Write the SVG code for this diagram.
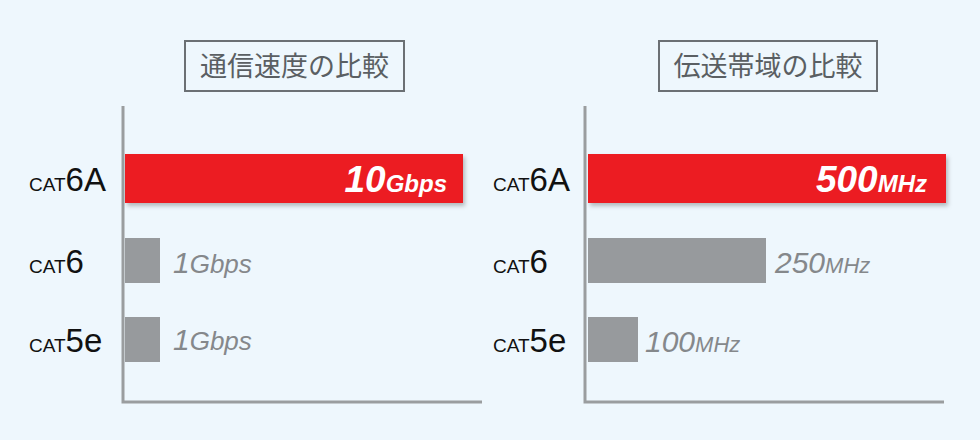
<svg xmlns="http://www.w3.org/2000/svg" width="980" height="440" viewBox="0 0 980 440">
<style>
.t{font-family:"Noto Sans CJK JP",sans-serif;font-size:27px;fill:#5a5f63}
.box{fill:none;stroke:#6b7074;stroke-width:2}
.ax{fill:none;stroke:#9a9d9f;stroke-width:3}
.red{fill:#ec1e24}
.gray{fill:#979a9d}
.lab{font-family:"Liberation Sans",Arial,sans-serif;fill:#111}
.sm{font-size:19px}
.big{font-size:33px}
.v{font-family:"Liberation Sans",Arial,sans-serif;font-style:italic}
.w{fill:#fff;font-weight:bold}
.g{fill:#85888b}
</style>
<defs><filter id="sh" x="-5%" y="-20%" width="110%" height="150%"><feDropShadow dx="2" dy="3" stdDeviation="2" flood-color="#000" flood-opacity="0.25"/></filter></defs>
<rect width="980" height="440" fill="#eef7fd"/>
<g id="left-title"><rect class="box" x="185" y="41" width="219" height="50"/><text class="t" x="294.5" y="76" text-anchor="middle">通信速度の比較</text></g>
<g id="right-title"><rect class="box" x="659" y="41" width="218" height="50"/><text class="t" x="768" y="76" text-anchor="middle">伝送帯域の比較</text></g>
<g id="axes"><path class="ax" d="M123 106V402H482"/><path class="ax" d="M585 106V402H944"/></g>
<g id="labels-left">
<text class="lab" x="29" y="191"><tspan class="sm">CAT</tspan><tspan class="big">6A</tspan></text>
<text class="lab" x="29" y="273"><tspan class="sm">CAT</tspan><tspan class="big">6</tspan></text>
<text class="lab" x="29" y="352"><tspan class="sm">CAT</tspan><tspan class="big">5e</tspan></text>
</g>
<g id="labels-right">
<text class="lab" x="493" y="191"><tspan class="sm">CAT</tspan><tspan class="big">6A</tspan></text>
<text class="lab" x="493" y="273"><tspan class="sm">CAT</tspan><tspan class="big">6</tspan></text>
<text class="lab" x="493" y="352"><tspan class="sm">CAT</tspan><tspan class="big">5e</tspan></text>
</g>
<g id="bar-speed-6a"><rect class="red" x="125" y="154" width="338" height="49" filter="url(#sh)"/><text class="v w" x="447" y="192" text-anchor="end"><tspan font-size="37">10</tspan><tspan font-size="24">Gbps</tspan></text></g>
<g id="bar-speed-6"><rect class="gray" x="125" y="238" width="35" height="45"/><text class="v g" x="173" y="273"><tspan font-size="30">1</tspan><tspan font-size="26">Gbps</tspan></text></g>
<g id="bar-speed-5e"><rect class="gray" x="125" y="317" width="35" height="45"/><text class="v g" x="173" y="350"><tspan font-size="30">1</tspan><tspan font-size="26">Gbps</tspan></text></g>
<g id="bar-band-6a"><rect class="red" x="588" y="154" width="358" height="49" filter="url(#sh)"/><text class="v w" x="927" y="192" text-anchor="end"><tspan font-size="37">500</tspan><tspan font-size="24">MHz</tspan></text></g>
<g id="bar-band-6"><rect class="gray" x="588" y="238" width="178" height="45"/><text class="v g" x="775" y="273"><tspan font-size="30">250</tspan><tspan font-size="22">MHz</tspan></text></g>
<g id="bar-band-5e"><rect class="gray" x="588" y="317" width="50" height="45"/><text class="v g" x="645" y="352"><tspan font-size="30">100</tspan><tspan font-size="22">MHz</tspan></text></g>
</svg>
